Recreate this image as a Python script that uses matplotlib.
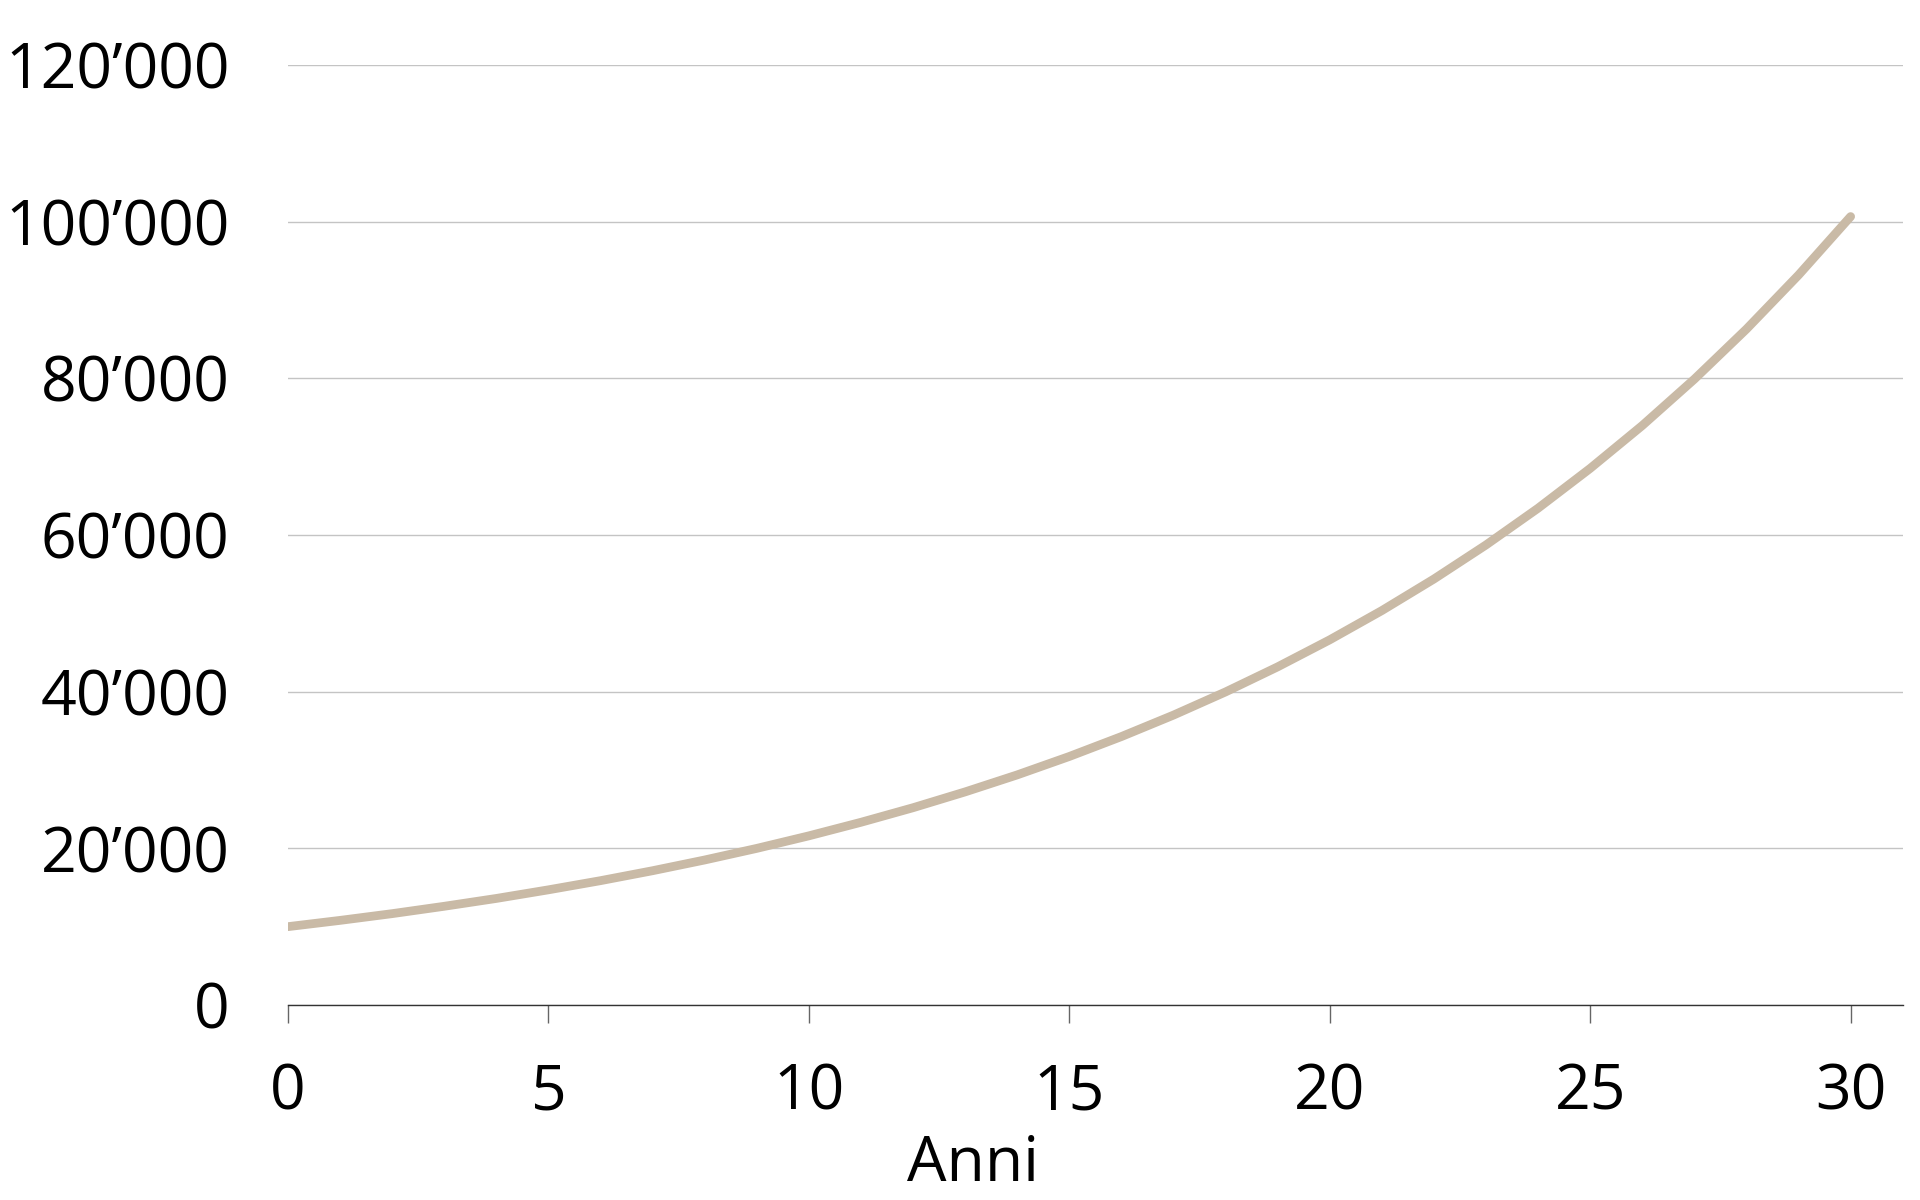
import matplotlib
matplotlib.use("Agg")
import matplotlib.pyplot as plt
from matplotlib.ticker import FuncFormatter

# capital growth over the years
anni = list(range(0, 31))
valore = [10000, 10800, 11660, 12600, 13600, 14700, 15870, 17140, 18510, 19990,
          21590, 23320, 25180, 27200, 29370, 31720, 34260, 37000, 39960, 43160,
          46610, 50340, 54370, 58720, 63410, 68490, 73960, 79880, 86270, 93170,
          100630]

x_ticks = [0, 5, 10, 15, 20, 25, 30]
y_ticks = [0, 20000, 40000, 60000, 80000, 100000, 120000]

plt.rcParams['font.family'] = ['Open Sans', 'DejaVu Sans']

fig = plt.figure(figsize=(19.2, 12), dpi=100)
ax = fig.add_axes([0.15, 0.1625, 0.841, 0.7835])

ax.plot(anni, valore, color='#C9BAA6', linewidth=6.3, solid_capstyle='round', zorder=3)

ax.set_xlim(0, 31)
ax.set_ylim(0, 120000)
ax.set_xticks(x_ticks)
ax.set_yticks(y_ticks)

def fmt(v, pos):
    return '{:,}'.format(int(v)).replace(',', '\u2019')

ax.yaxis.set_major_formatter(FuncFormatter(fmt))

ax.grid(axis='y', color='#C4C4C4', linewidth=1.0)
ax.set_axisbelow(True)
for s in ['top', 'right', 'left']:
    ax.spines[s].set_visible(False)
ax.spines['bottom'].set_color('#333333')
ax.spines['bottom'].set_linewidth(1.0)

ax.tick_params(axis='y', length=0, pad=42, labelsize=45, labelcolor='black')
ax.tick_params(axis='x', direction='out', length=13, width=1.0, color='#666666',
               pad=28, labelsize=45, labelcolor='black')

fig.text(0.507, 0.003, 'Anni', ha='center', va='bottom', fontsize=45)

fig.savefig('out.png', dpi=100)
